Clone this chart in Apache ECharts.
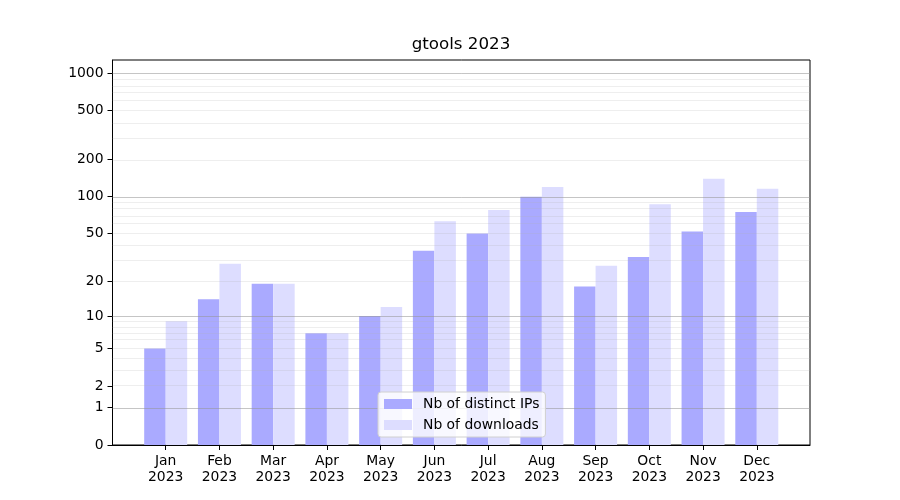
<!DOCTYPE html>
<html>
<head>
<meta charset="utf-8">
<script src="https://cdn.jsdelivr.net/npm/echarts@6/dist/echarts.min.js"></script>
<style>
html,body{margin:0;padding:0;background:#fff;}
#chart{width:900px;height:500px;}
</style>
</head>
<body>
<div id="chart"></div>
<script>
// ---- data ----
const titleText = 'gtools 2023';
const months = ['Jan','Feb','Mar','Apr','May','Jun','Jul','Aug','Sep','Oct','Nov','Dec'];
const yearLabel = '2023';
const seriesNames = ['Nb of distinct IPs', 'Nb of downloads'];
const distinctIPs = [5, 14, 19, 7, 10, 36, 50, 100, 18, 32, 52, 75];
const downloads   = [9, 28, 19, 7, 12, 63, 78, 120, 27, 87, 140, 116];
const yTickLabels = [0, 1, 2, 5, 10, 20, 50, 100, 200, 500, 1000];
const majorGrid = [1, 10, 100, 1000];
const minorGrid = [2, 3, 4, 5, 6, 7, 8, 9, 20, 30, 40, 50, 60, 70, 80, 90, 200, 300, 400, 500, 600, 700, 800, 900];
const yTopValue = 1282;

// scale: log10(1 + v)
const tf = v => Math.log10(1 + v);
const inv = t => Math.round(Math.pow(10, t) - 1);

const FONT = 'DejaVu Sans';
const chart = echarts.init(document.getElementById('chart'), null, {renderer: 'canvas'});

const gridLines = [];
majorGrid.forEach(v => gridLines.push({yAxis: tf(v), lineStyle: {color: 'rgba(150,150,150,0.55)', width: 1, type: 'solid'}}));
minorGrid.forEach(v => gridLines.push({yAxis: tf(v), lineStyle: {color: 'rgba(176,176,176,0.22)', width: 1, type: 'solid'}}));

const tickPos = months.map((m, i) => i);

chart.setOption({
  animation: false,
  backgroundColor: '#fff',
  textStyle: {fontFamily: FONT},
  title: {
    text: titleText,
    left: 461,
    top: 36,
    padding: 0,
    textAlign: 'center',
    textStyle: {fontFamily: FONT, fontSize: 16.7, fontWeight: 'normal', color: '#000'}
  },
  grid: {
    left: 112.5, right: 90, top: 60, bottom: 55,
    show: true, borderColor: '#000', borderWidth: 1, backgroundColor: 'transparent'
  },
  legend: {
    orient: 'vertical',
    left: 378, top: 392,
    padding: [5, 6, 5, 6],
    itemGap: 7,
    itemWidth: 28, itemHeight: 10,
    icon: 'rect',
    backgroundColor: 'rgba(255,255,255,0.8)',
    borderColor: '#d0d0d0', borderWidth: 1, borderRadius: 3,
    z: 20,
    textStyle: {fontFamily: FONT, fontSize: 13.9, color: '#000', padding: [0, 0, 0, 6]},
    data: seriesNames
  },
  xAxis: {
    type: 'value',
    min: -0.99, max: 11.99,
    axisLine: {show: true, onZero: false, lineStyle: {color: '#000', width: 1}},
    axisTick: {show: true, length: 5, customValues: tickPos, lineStyle: {color: '#000', width: 1}},
    axisLabel: {
      show: true, customValues: tickPos, margin: 8,
      fontFamily: FONT, fontSize: 13.9, lineHeight: 16, color: '#000', align: 'center',
      formatter: v => months[Math.round(v)] + '\n' + yearLabel
    },
    splitLine: {show: false}
  },
  yAxis: {
    type: 'value',
    min: 0, max: tf(yTopValue),
    axisLine: {show: true, onZero: false, lineStyle: {color: '#000', width: 1}},
    axisTick: {show: true, length: 5, customValues: yTickLabels.map(tf), lineStyle: {color: '#000', width: 1}},
    axisLabel: {
      show: true, customValues: yTickLabels.map(tf), margin: 9,
      fontFamily: FONT, fontSize: 13.9, color: '#000',
      formatter: v => String(inv(v))
    },
    splitLine: {show: false}
  },
  series: [
    {
      name: seriesNames[0],
      type: 'bar',
      barWidth: 21.5,
      barGap: '0%',
      itemStyle: {color: '#aaaaff'},
      data: distinctIPs.map((v, i) => [i, tf(v)]),
      markLine: {
        silent: true, symbol: 'none', z: 5,
        label: {show: false},
        emphasis: {disabled: true},
        data: gridLines
      }
    },
    {
      name: seriesNames[1],
      type: 'bar',
      barWidth: 21.5,
      barGap: '0%',
      itemStyle: {color: '#ddddff'},
      data: downloads.map((v, i) => [i, tf(v)])
    }
  ]
});
</script>
</body>
</html>
